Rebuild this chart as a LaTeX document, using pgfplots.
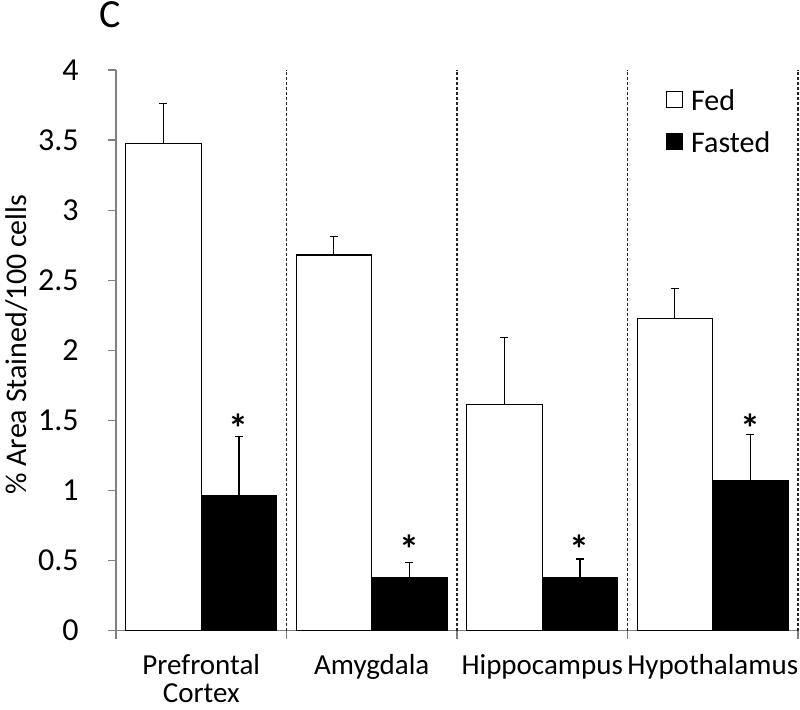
\documentclass[border=0pt]{standalone}
\usepackage{fontspec}
\setmainfont{Carlito}
\usepackage{pgfplots}
\pgfplotsset{compat=1.18}
\pgfplotstableread{
x y e
0.278 3.475 0.285
1.278 2.680 0.130
2.278 1.614 0.476
3.278 2.225 0.215
}\fed
\pgfplotstableread{
x y e
0.721 0.960 0.424
1.721 0.376 0.107
2.721 0.379 0.131
3.721 1.073 0.327
}\fasted
\begin{document}
\begin{tikzpicture}
\path[use as bounding box] (-58pt,-39.25pt) rectangle (342pt,315.25pt);
\begin{axis}[
  at={(0,0)}, anchor=south west,
  scale only axis, width=341pt, height=280.25pt,
  xmin=0, xmax=4, ymin=0, ymax=4,
  axis x line=bottom, axis y line=left,
  axis line style={-, draw=gray, line width=0.6pt},
  tick align=outside, major tick length=4pt,
  tick style={draw=gray, line width=0.6pt},
  ytick={0,0.5,1,1.5,2,2.5,3,3.5,4},
  xtick={0,1,2,3,4},
  xticklabels={{Prefrontal\\Cortex},Amygdala,Hippocampus,Hypothalamus,{}},
  xticklabel style={align=center, xshift=42.625pt, yshift=-4.5pt, font=\fontsize{14.5}{14}\selectfont},
  yticklabel style={anchor=east, inner xsep=0pt, xshift=-14.5pt, font=\fontsize{16}{18}\selectfont},
  /pgf/number format/assume math mode=true,
  extra x ticks={1,2,3,4},
  extra x tick labels={},
  extra x tick style={grid=major, major tick length=0pt,
     major grid style={black!85, dash pattern=on 1.5pt off 1pt, line width=0.6pt}},
  extra description/.code={
    \node[font=\fontsize{20}{22}\selectfont, anchor=base, inner sep=0pt] at (-0.008,1.075) {C};
    \node[font=\fontsize{15}{17}\selectfont, rotate=90, anchor=center, inner sep=0pt] at (-0.146,0.51) {\% Area Stained/100 cells};
  },
  legend style={at={(axis description cs:0.797,0.98)}, anchor=north west, draw=none, fill=none,
     font=\fontsize{15}{17}\selectfont, row sep=5pt},
  legend cell align=left,
]
\addplot[ybar, bar width=0.443, bar shift=0, draw=black, fill=white, line width=0.6pt,
  legend image code/.code={\draw[black, fill=white, line width=0.6pt, solid] (0pt,-3pt) rectangle (8pt,5pt); \path (10pt,0pt);},
  error bars/.cd, y dir=plus, y explicit, error mark=|,
  error bar style={line width=0.6pt, black, solid},
  error mark options={mark size=2pt, line width=0.6pt, black, solid}]
  table[x=x, y=y, y error=e] {\fed};
\addlegendentry{Fed}
\addplot[ybar, bar width=0.443, bar shift=0, draw=black, fill=black, line width=0.6pt,
  legend image code/.code={\draw[black, fill=black, line width=0.6pt, solid] (0pt,-3pt) rectangle (8pt,5pt); \path (10pt,0pt);},
  error bars/.cd, y dir=plus, y explicit, error mark=|,
  error bar style={line width=0.6pt, black, solid},
  error mark options={mark size=2pt, line width=0.6pt, black, solid}]
  table[x=x, y=y, y error=e] {\fasted};
\addlegendentry{Fasted}
\addplot[draw=none, mark=none, forget plot, nodes near coords={*},
  every node near coord/.style={anchor=center, font=\bfseries\fontsize{20}{20}\selectfont}]
  coordinates {(0.721,1.442) (1.721,0.582) (2.721,0.577) (3.721,1.442)};
\end{axis}
\end{tikzpicture}
\end{document}
